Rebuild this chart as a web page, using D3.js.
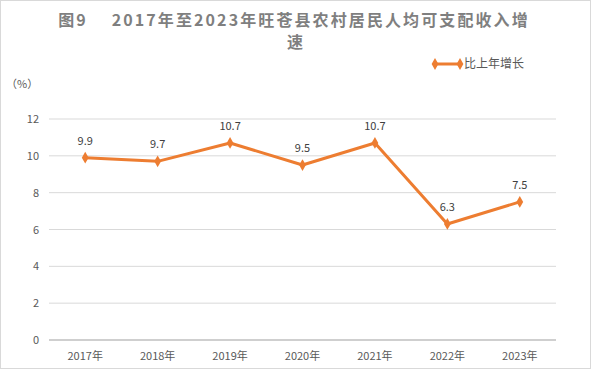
<!DOCTYPE html>
<html>
<head>
<meta charset="utf-8">
<script src="https://cdn.jsdelivr.net/npm/d3@7"></script>
<style>
  body { margin: 0; background: #fff; }
  svg { display: block; font-family: "Microsoft YaHei", "Noto Sans CJK SC", sans-serif; }
</style>
</head>
<body>
<div id="chart"></div>
<script>
const years = ['2017年', '2018年', '2019年', '2020年', '2021年', '2022年', '2023年']
const growth = [9.9, 9.7, 10.7, 9.5, 10.7, 6.3, 7.5]
const yTicks = [0, 2, 4, 6, 8, 10, 12]

const W = 591, H = 369
const margin = { top: 119, right: 35, bottom: 29, left: 49 }
const color = '#ED7D31'

let svg = d3.select('#chart').append('svg')
  .attr('width', W).attr('height', H)

// outer frame
svg.append('rect')
  .attr('x', 0.5).attr('y', 0.5)
  .attr('width', W - 1).attr('height', H - 1)
  .attr('fill', '#fff').attr('stroke', '#d9d9d9')

let x = d3.scaleBand().domain(years).range([margin.left, W - margin.right])
let y = d3.scaleLinear().domain([0, 12]).range([H - margin.bottom, margin.top])

// gridlines
svg.append('g')
  .selectAll('line')
  .data(yTicks.filter(d => d > 0))
  .enter().append('line')
  .attr('x1', margin.left).attr('x2', W - margin.right)
  .attr('y1', d => y(d)).attr('y2', d => y(d))
  .attr('stroke', '#d9d9d9').attr('stroke-width', 1)

// y tick labels
svg.append('g')
  .selectAll('text')
  .data(yTicks)
  .enter().append('text')
  .attr('x', margin.left - 10).attr('y', d => y(d) + 4)
  .attr('text-anchor', 'end')
  .attr('font-size', 11).attr('fill', '#595959')
  .text(d => d)

// x axis
svg.append('line')
  .attr('x1', margin.left).attr('x2', W - margin.right)
  .attr('y1', y(0)).attr('y2', y(0))
  .attr('stroke', '#bfbfbf').attr('stroke-width', 1.5)

svg.append('g')
  .selectAll('text')
  .data(years)
  .enter().append('text')
  .attr('x', d => x(d) + x.bandwidth() / 2)
  .attr('y', y(0) + 20)
  .attr('text-anchor', 'middle')
  .attr('font-size', 11).attr('fill', '#595959')
  .text(d => d)

// line
let pts = years.map((d, i) => [x(d) + x.bandwidth() / 2, y(growth[i])])
svg.append('path')
  .datum(pts)
  .attr('d', d3.line())
  .attr('fill', 'none')
  .attr('stroke', color).attr('stroke-width', 3)
  .attr('stroke-linejoin', 'round')

let diamond = d3.symbol().type(d3.symbolDiamond).size(40)
svg.append('g')
  .selectAll('path')
  .data(pts)
  .enter().append('path')
  .attr('d', diamond)
  .attr('transform', d => `translate(${d[0]},${d[1]})`)
  .attr('fill', color)

// data labels
svg.append('g')
  .selectAll('text')
  .data(pts)
  .enter().append('text')
  .attr('x', d => d[0]).attr('y', d => d[1] - 13)
  .attr('text-anchor', 'middle')
  .attr('font-size', 11).attr('fill', '#404040')
  .text((d, i) => growth[i])

// title, two lines
svg.append('text')
  .attr('x', 294).attr('y', 26)
  .attr('text-anchor', 'middle')
  .attr('font-size', 16).attr('font-weight', 'bold').attr('fill', '#7f7f7f')
  .attr('letter-spacing', 2.1)
  .text('图9　 2017年至2023年旺苍县农村居民人均可支配收入增')
svg.append('text')
  .attr('x', 295).attr('y', 48)
  .attr('text-anchor', 'middle')
  .attr('font-size', 16).attr('font-weight', 'bold').attr('fill', '#7f7f7f')
  .text('速')

// legend
svg.append('line')
  .attr('x1', 435).attr('x2', 460).attr('y1', 64).attr('y2', 64)
  .attr('stroke', color).attr('stroke-width', 3)
svg.append('g')
  .selectAll('path')
  .data([435, 460])
  .enter().append('path')
  .attr('d', diamond)
  .attr('transform', d => `translate(${d},64)`)
  .attr('fill', color)
svg.append('text')
  .attr('x', 464).attr('y', 68)
  .attr('font-size', 12).attr('fill', '#595959')
  .text('比上年增长')

// unit
svg.append('text')
  .attr('x', 6).attr('y', 88)
  .attr('font-size', 11).attr('fill', '#595959')
  .text('（%）')
</script>
</body>
</html>
